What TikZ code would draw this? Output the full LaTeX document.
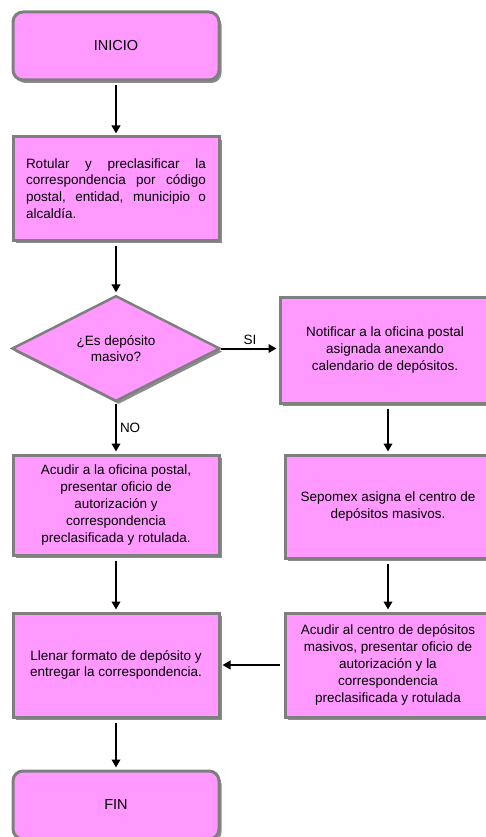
\documentclass[tikz,border=0pt]{standalone}
\usepackage{fontspec}
\setmainfont{Liberation Sans}
\usetikzlibrary{shapes.geometric, arrows.meta, shadows}
\definecolor{rosa}{HTML}{FF99FF}
\definecolor{borde}{HTML}{7F7F7F}

\begin{document}
\begin{tikzpicture}[x=1pt, y=1pt,
    caja/.style={rectangle, draw=borde, line width=3pt, fill=rosa,
      minimum width=206pt, minimum height=103pt, align=center,
      font=\fontsize{13.5}{16.8}\selectfont,
      drop shadow={shadow xshift=2.5pt, shadow yshift=-3pt, fill=black, opacity=0.45}},
    inicial/.style={caja, rounded corners=10pt, minimum height=68pt,
      font=\fontsize{14.5}{17}\selectfont},
    decision/.style={caja, diamond, minimum width=208pt, minimum height=103pt,
      line width=2.5pt, inner sep=0pt},
    flecha/.style={-{Triangle[length=8pt, width=8.5pt]}, line width=2pt,
      shorten <=4pt, shorten >=2pt},
    etiqueta/.style={font=\fontsize{13.5}{16.8}\selectfont, inner sep=3pt}]
      \useasboundingbox (0,0) rectangle (485,-837);

      \node[inicial] (inicio) at (116,-46) {INICIO};
      \node[caja, align=justify, text width=180pt] (rotular) at (116,-188.5)
        {Rotular y preclasificar la\linebreak correspondencia por código\linebreak
         postal, entidad, municipio o\linebreak alcaldía.};
      \node[decision] (pregunta) at (116,-348.5) {¿Es depósito\\masivo?};
      \node[caja, minimum width=210pt, minimum height=106pt] (notificar) at (385,-350)
        {Notificar a la oficina postal\\asignada anexando\\calendario de depósitos.};
      \node[caja, minimum height=100pt] (acudirOficina) at (116,-505)
        {Acudir a la oficina postal,\\presentar oficio de\\autorización y\\correspondencia\\preclasificada y rotulada.};
      \node[caja] (sepomex) at (388,-506.5)
        {Sepomex asigna el centro de\\depósitos masivos.};
      \node[caja, minimum height=104pt] (llenar) at (116,-665)
        {Llenar formato de depósito y\\entregar la correspondencia.};
      \node[caja, minimum height=104pt] (acudirCentro) at (388,-665)
        {Acudir al centro de depósitos\\masivos, presentar oficio de\\autorización y la\\correspondencia\\preclasificada y rotulada};
      \node[inicial] (fin) at (116,-805) {FIN};

      \draw[flecha] (inicio) -- (rotular);
      \draw[flecha] (rotular) -- (pregunta);
      \draw[flecha, shorten <=0pt] (pregunta.east) -- node[etiqueta, above] {SI} (notificar.west |- pregunta.east);
      \draw[flecha, shorten <=1pt] (pregunta) -- node[etiqueta, right] {NO} (acudirOficina);
      \draw[flecha] (sepomex.north |- notificar.south) -- (sepomex);
      \draw[flecha] (sepomex) -- (acudirCentro);
      \draw[flecha] (acudirOficina) -- (llenar);
      \draw[flecha] (acudirCentro) -- (llenar);
      \draw[flecha] (llenar) -- (fin);
\end{tikzpicture}
\end{document}
